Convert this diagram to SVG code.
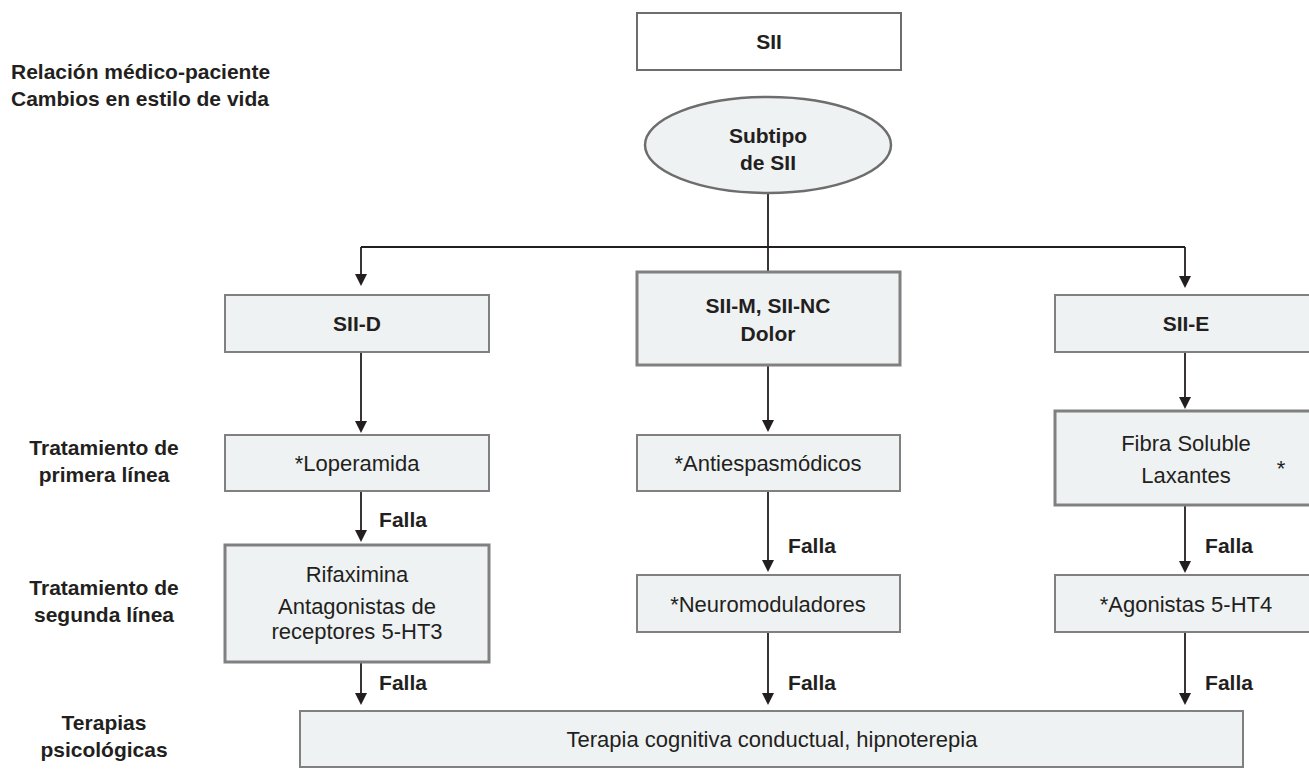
<svg xmlns="http://www.w3.org/2000/svg" width="1309" height="784" viewBox="0 0 1309 784">
<defs>
<style>
.t{font-family:"Liberation Sans",Arial,sans-serif;fill:#231f20;text-anchor:middle}
.b{font-weight:bold;font-size:21px}
.r{font-size:22px}
.box{fill:#eff2f3;stroke:#808080;stroke-width:2}
.thick{stroke-width:3}
.c{fill:none;stroke:#231f20;stroke-width:1.8}
</style>
<marker id="ah" markerUnits="userSpaceOnUse" markerWidth="12" markerHeight="12" refX="2" refY="6" orient="auto">
<path d="M0,0 L12,6 L0,12 z" fill="#231f20"/>
</marker>
</defs>
<rect width="1309" height="784" fill="#ffffff"/>

<g id="labels">
<text class="t b" x="11" y="79" style="text-anchor:start">Relación médico-paciente</text>
<text class="t b" x="11" y="106" style="text-anchor:start">Cambios en estilo de vida</text>
<text class="t b" x="104" y="455">Tratamiento de</text>
<text class="t b" x="104" y="482">primera línea</text>
<text class="t b" x="104" y="595">Tratamiento de</text>
<text class="t b" x="104" y="622">segunda línea</text>
<text class="t b" x="104" y="730">Terapias</text>
<text class="t b" x="104" y="757">psicológicas</text>
</g>

<g id="connectors">
<path class="c" d="M768,193 V272"/>
<path class="c" d="M361,247 H1185"/>
<path class="c" d="M361,247 V276" marker-end="url(#ah)"/>
<path class="c" d="M1185,247 V278" marker-end="url(#ah)"/>
<path class="c" d="M361,352 V423" marker-end="url(#ah)"/>
<path class="c" d="M361,491 V532" marker-end="url(#ah)"/>
<path class="c" d="M361,662 V695" marker-end="url(#ah)"/>
<path class="c" d="M768,365 V422" marker-end="url(#ah)"/>
<path class="c" d="M768,491 V562" marker-end="url(#ah)"/>
<path class="c" d="M768,632 V695" marker-end="url(#ah)"/>
<path class="c" d="M1185,352 V399" marker-end="url(#ah)"/>
<path class="c" d="M1185,505 V563" marker-end="url(#ah)"/>
<path class="c" d="M1185,632 V695" marker-end="url(#ah)"/>
<text class="t b" x="403" y="527">Falla</text>
<text class="t b" x="403" y="690">Falla</text>
<text class="t b" x="812" y="553">Falla</text>
<text class="t b" x="812" y="690">Falla</text>
<text class="t b" x="1229" y="553">Falla</text>
<text class="t b" x="1229" y="690">Falla</text>
</g>

<g id="sii">
<rect x="637" y="13" width="264" height="57" fill="#ffffff" stroke="#6d6d6d" stroke-width="2"/>
<text class="t b" x="769" y="49">SII</text>
</g>

<g id="subtipo">
<ellipse cx="768" cy="145" rx="123" ry="48" fill="#eff2f3" stroke="#6d6d6d" stroke-width="2.5"/>
<text class="t b" x="768" y="143">Subtipo</text>
<text class="t b" x="768" y="170">de SII</text>
</g>

<g id="sii-d">
<rect class="box" x="225" y="295" width="264" height="57"/>
<text class="t b" x="357" y="331">SII-D</text>
</g>

<g id="sii-m">
<rect class="box thick" x="637" y="272" width="263" height="93"/>
<text class="t b" x="768" y="313">SII-M, SII-NC</text>
<text class="t b" x="768" y="341">Dolor</text>
</g>

<g id="sii-e">
<rect class="box" x="1055" y="295" width="262" height="57"/>
<text class="t b" x="1186" y="331">SII-E</text>
</g>

<g id="loperamida">
<rect class="box" x="225" y="435" width="264" height="56"/>
<text class="t r" x="357" y="471">*Loperamida</text>
</g>

<g id="antiespasmodicos">
<rect class="box" x="637" y="435" width="263" height="56"/>
<text class="t r" x="768" y="471">*Antiespasmódicos</text>
</g>

<g id="fibra">
<rect class="box thick" x="1055" y="411" width="262" height="94"/>
<text class="t r" x="1186" y="451">Fibra Soluble</text>
<text class="t r" x="1186" y="483">Laxantes</text>
<text class="t r" x="1281" y="476">*</text>
</g>

<g id="rifaximina">
<rect class="box thick" x="225" y="545" width="264" height="117"/>
<text class="t r" x="357" y="582">Rifaximina</text>
<text class="t r" x="357" y="614">Antagonistas de</text>
<text class="t r" x="357" y="639">receptores 5-HT3</text>
</g>

<g id="neuromoduladores">
<rect class="box" x="637" y="575" width="263" height="57"/>
<text class="t r" x="768" y="612">*Neuromoduladores</text>
</g>

<g id="agonistas">
<rect class="box" x="1055" y="575" width="262" height="57"/>
<text class="t r" x="1186" y="612">*Agonistas 5-HT4</text>
</g>

<g id="terapia">
<rect class="box" x="300" y="711" width="943" height="56"/>
<text class="t r" x="772" y="747">Terapia cognitiva conductual, hipnoterepia</text>
</g>
</svg>
